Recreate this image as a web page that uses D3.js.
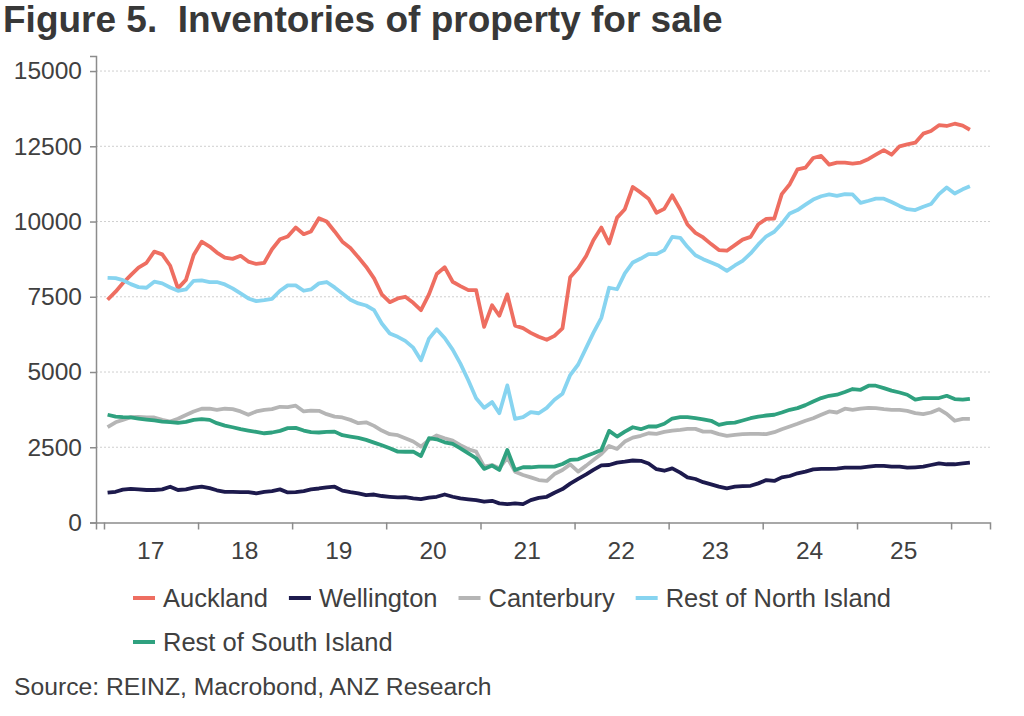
<!DOCTYPE html>
<html>
<head>
<meta charset="utf-8">
<script src="https://cdn.jsdelivr.net/npm/d3@7"></script>
<style>
  body { margin: 0; background: #fff; }
  svg { display: block; font-family: "Liberation Sans", Arial, sans-serif; }
</style>
</head>
<body>
<script>
// monthly, Dec 2016 - Feb 2026
const firstMonth = "2016-12-15";
const lastMonth = "2026-02-15";

const auckland = [7400,7670,7950,8220,8470,8630,9000,8910,8530,7780,8060,8890,9330,9170,8970,8800,8760,8860,8670,8590,
  8630,9080,9410,9500,9800,9580,9670,10110,10000,9670,9330,9120,8810,8500,8110,7580,7320,7445,7500,7300,
  7055,7580,8255,8480,8000,7855,7720,7720,6500,7220,6870,7580,6540,6460,6300,6170,6070,6200,6450,8150,
  8445,8855,9380,9800,9270,10130,10410,11150,10960,10760,10290,10420,10870,10400,9900,9625,9470,9250,9050,9030,
  9215,9400,9490,9910,10090,10100,10910,11240,11730,11790,12110,12180,11890,11960,11960,11925,11960,12080,12220,12370,
  12220,12500,12565,12620,12920,13010,13200,13175,13250,13185,13050];
const wellington = [990,1020,1090,1120,1100,1080,1080,1100,1190,1080,1100,1160,1190,1140,1070,1020,1020,1010,1010,970,
  1020,1045,1100,1000,1010,1045,1100,1130,1170,1190,1060,1010,970,910,930,880,855,835,840,800,
  780,830,855,930,855,800,770,745,690,720,635,610,635,610,745,820,855,990,1110,1290,
  1450,1600,1750,1900,1910,1990,2020,2060,2050,1960,1770,1720,1800,1655,1500,1445,1340,1267,1190,1135,
  1190,1210,1220,1300,1410,1380,1500,1545,1635,1690,1765,1780,1780,1790,1820,1820,1820,1855,1880,1880,
  1855,1855,1820,1835,1855,1910,1965,1935,1935,1965,1990];
const canterbury = [3170,3330,3410,3500,3510,3490,3490,3410,3355,3445,3570,3690,3780,3780,3745,3780,3765,3690,3580,3690,
  3745,3765,3845,3835,3880,3690,3720,3710,3600,3520,3490,3410,3300,3330,3210,3055,2935,2900,2800,2690,
  2520,2745,2890,2800,2720,2570,2435,2355,1855,1910,1800,2155,1690,1580,1500,1410,1380,1610,1745,1930,
  1690,1890,2080,2280,2545,2445,2690,2820,2880,2965,2945,3010,3055,3080,3110,3110,3020,3020,2935,2880,
  2910,2935,2945,2945,2935,3000,3100,3190,3280,3380,3465,3580,3690,3655,3780,3745,3780,3810,3800,3765,
  3745,3745,3710,3635,3600,3655,3765,3610,3380,3445,3445];
const restNorth = [8130,8120,8055,7920,7820,7800,8000,7945,7810,7700,7745,8030,8045,7990,7990,7910,7780,7610,7445,7355,
  7390,7430,7700,7880,7880,7700,7745,7945,7990,7810,7610,7400,7280,7210,7055,6610,6280,6170,6035,5810,
  5390,6110,6420,6130,5745,5280,4720,4130,3810,4000,3630,4555,3445,3500,3670,3630,3810,4080,4280,4900,
  5250,5800,6300,6800,7800,7750,8275,8640,8770,8915,8915,9050,9490,9460,9160,8880,8750,8640,8530,8360,
  8540,8690,8940,9240,9510,9660,9930,10270,10380,10560,10730,10840,10900,10850,10910,10900,10620,10690,10760,10760,
  10650,10520,10410,10380,10490,10580,10910,11130,10930,11070,11170];
const restSouth = [3580,3520,3500,3490,3455,3420,3390,3355,3335,3310,3345,3410,3435,3410,3300,3220,3165,3100,3055,3010,
  2965,2990,3045,3135,3145,3055,3000,2990,3010,3020,2900,2855,2810,2745,2655,2565,2465,2355,2350,2355,
  2210,2800,2765,2665,2610,2465,2300,2135,1780,1890,1745,2410,1745,1835,1835,1855,1855,1855,1945,2080,
  2100,2210,2300,2410,3045,2855,3020,3165,3100,3190,3190,3280,3455,3500,3500,3465,3430,3380,3245,3300,
  3320,3390,3465,3520,3555,3580,3655,3745,3800,3900,4020,4135,4210,4245,4335,4435,4410,4545,4545,4465,
  4380,4320,4245,4080,4135,4135,4135,4210,4100,4080,4110];

const seriesNames = ["Auckland", "Wellington", "Canterbury", "Rest of North Island", "Rest of South Island"];
const seriesColors = ["#ee6e61", "#1d1a4d", "#b5b5b5", "#87d4f0", "#2fa17f"];
const seriesValues = [auckland, wellington, canterbury, restNorth, restSouth];

const yTicks = [0, 2500, 5000, 7500, 10000, 12500, 15000];
const yearLabels = ["17", "18", "19", "20", "21", "22", "23", "24", "25"];

const w = 1024, h = 716;
const plotLeft = 96, plotRight = 990, plotTop = 56, plotBottom = 522.5;
const axisColor = "#8c8c8c", textColor = "#404040";

const svg = d3.select("body").append("svg").attr("width", w).attr("height", h);

svg.append("text")
  .attr("x", 3).attr("y", 32)
  .style("font-size", "37px").style("font-weight", "bold")
  .style("white-space", "pre")
  .attr("fill", "#383838")
  .text("Figure 5.  Inventories of property for sale");

const months = d3.utcMonth.range(new Date(firstMonth), d3.utcMonth.offset(new Date(lastMonth), 1))
  .map(d => new Date(Date.UTC(d.getUTCFullYear(), d.getUTCMonth(), 15)));

const xScale = d3.scaleUtc()
  .domain([new Date("2016-12-01"), new Date("2026-06-01")])
  .range([plotLeft, plotRight]);
const yScale = d3.scaleLinear()
  .domain([0, 15500])
  .range([plotBottom, plotTop]);

// grid
svg.append("g").selectAll("line").data(yTicks.filter(d => d > 0)).enter().append("line")
  .attr("x1", plotLeft).attr("x2", plotRight)
  .attr("y1", d => yScale(d)).attr("y2", d => yScale(d))
  .attr("stroke", "#cfcfcf").attr("stroke-width", 1).attr("stroke-dasharray", "2,2");

// y axis
const yAxis = d3.axisLeft(yScale).tickValues(yTicks).tickSize(6).tickPadding(8).tickFormat(d3.format("d"));
const gy = svg.append("g").attr("transform", "translate(" + plotLeft + ",0)").call(yAxis);
gy.select(".domain").attr("stroke", axisColor).attr("stroke-width", 1.5);
gy.selectAll(".tick line").attr("stroke", axisColor).attr("stroke-width", 1.5);
gy.selectAll(".tick text").attr("fill", textColor).style("font-size", "24.5px")
  .style("font-family", "'Liberation Sans', Arial, sans-serif");

// x axis
const yearStarts = d3.range(2017, 2027).map(y => new Date(Date.UTC(y, 0, 1)));
const xAxis = d3.axisBottom(xScale).tickValues(yearStarts).tickSize(7).tickFormat("");
const gx = svg.append("g").attr("transform", "translate(0," + plotBottom + ")").call(xAxis);
gx.select(".domain").attr("stroke", axisColor).attr("stroke-width", 1.5);
gx.selectAll(".tick line").attr("stroke", axisColor).attr("stroke-width", 1.5);

svg.append("g").selectAll("text").data(yearLabels).enter().append("text")
  .attr("x", (d, i) => xScale(new Date(Date.UTC(2017 + i, 6, 1))))
  .attr("y", 559)
  .attr("text-anchor", "middle")
  .attr("fill", textColor)
  .style("font-size", "24.5px")
  .text(d => d);

// lines
const line = d3.line()
  .x((d, i) => xScale(months[i]))
  .y(d => yScale(d));

svg.append("g").selectAll("path").data(seriesValues).enter().append("path")
  .attr("d", d => line(d))
  .attr("fill", "none")
  .attr("stroke", (d, i) => seriesColors[i])
  .attr("stroke-width", 3.8)
  .attr("stroke-linejoin", "round");

// legend
const legendRows = [[0, 1, 2, 3], [4]];
const legendY = [598, 642];
legendRows.forEach((row, r) => {
  let x = 133;
  row.forEach(k => {
    const g = svg.append("g");
    g.append("line")
      .attr("x1", x).attr("x2", x + 22)
      .attr("y1", legendY[r]).attr("y2", legendY[r])
      .attr("stroke", seriesColors[k]).attr("stroke-width", 4);
    const t = g.append("text")
      .attr("x", x + 30).attr("y", legendY[r] + 9)
      .attr("fill", textColor)
      .style("font-size", "25.5px")
      .text(seriesNames[k]);
    x += 30 + t.node().getComputedTextLength() + 21;
  });
});

svg.append("text")
  .attr("x", 14).attr("y", 695)
  .attr("fill", textColor)
  .style("font-size", "24.7px")
  .text("Source: REINZ, Macrobond, ANZ Research");
</script>
</body>
</html>
